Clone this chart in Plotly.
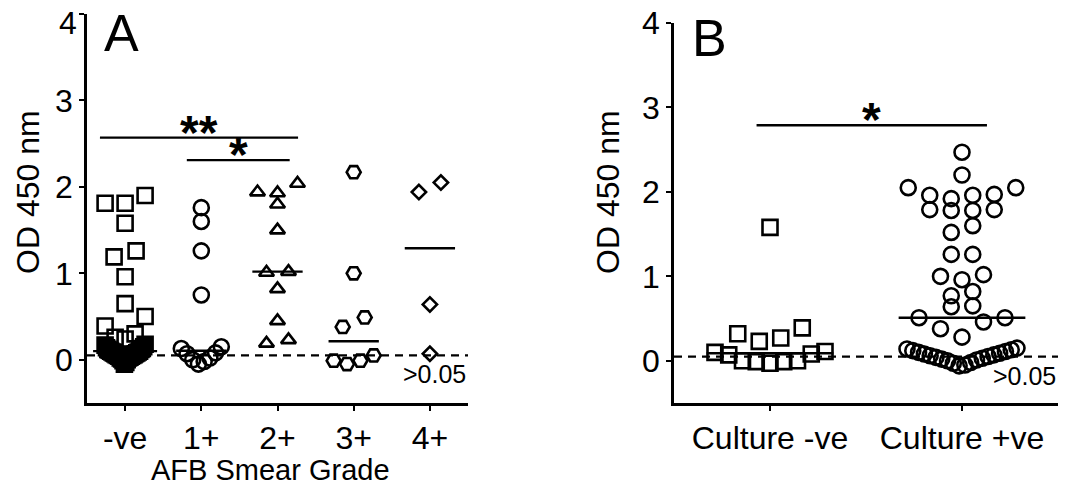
import numpy as np
import plotly.graph_objects as go

# ---------------- data ----------------
# Panel A: OD 450 nm by AFB smear grade
grade_labels = ["-ve", "1+", "2+", "3+", "4+"]
od_neg = [1.90, 1.81, 1.81, 1.58, 1.26, 1.19, 0.96, 0.65, 0.50, 0.39, 0.30, 0.26, 0.24,
          0.18, 0.17, 0.15, 0.14, 0.13, 0.12, 0.12, 0.11, 0.10, 0.10, 0.09, 0.09, 0.08,
          0.08, 0.07, 0.07, 0.06, 0.06, 0.05, 0.05, 0.04, 0.04, 0.03, 0.02, 0.02, 0.01,
          0.00, -0.01, -0.03, -0.05]
od_1p = [1.76, 1.60, 1.26, 0.75, 0.15, 0.13, 0.08, 0.07, 0.02, 0.00, -0.02, -0.05]
od_2p = [2.04, 1.94, 1.93, 1.80, 1.50, 1.02, 1.01, 0.82, 0.45, 0.23, 0.19]
od_3p = [2.17, 1.00, 0.49, 0.38, 0.05, -0.01, -0.01, -0.05]
od_4p = [2.05, 1.94, 0.64, 0.07]

# Panel B: OD 450 nm by culture result
culture_labels = ["Culture -ve", "Culture +ve"]
od_cneg = [1.58, 0.39, 0.32, 0.27, 0.23, 0.11, 0.10, 0.08, 0.07, 0.00, 0.00, -0.01, -0.01, -0.03]
od_cpos = [2.47, 2.20, 2.05, 2.05, 1.97, 1.96, 1.96, 1.92, 1.79, 1.79, 1.78, 1.78, 1.60, 1.52,
           1.26, 1.26, 1.02, 1.00, 0.96, 0.82, 0.77, 0.65, 0.64, 0.51, 0.51, 0.46, 0.38, 0.28,
           0.15, 0.14, 0.13, 0.12, 0.11, 0.10, 0.09, 0.08, 0.07, 0.06, 0.05, 0.04, 0.03,
           0.02, 0.01, 0.00, -0.02, -0.03, -0.05, -0.06]

y_ticks = [0, 1, 2, 3, 4]
cutoff = 0.05
cutoff_label = ">0.05"

# significance comparisons: (panel, x start, x end, y, label)
sig_panel = ["A", "A", "B"]
sig_x0 = [-0.33, 0.81, -0.07]
sig_x1 = [2.27, 2.16, 1.13]
sig_y = [2.57, 2.31, 2.79]
sig_text = ["**", "*", "*"]

# ---------------- layout constants ----------------
W, H = 1079, 488
FONT = "Arial, Liberation Sans, Helvetica, sans-serif"
A_XDOM = [87 / W, 468 / W]
B_XDOM = [674 / W, 1058 / W]
A_YDOM = [1 - 403 / H, 1 - 14 / H]
B_YDOM = [1 - 403 / H, 1 - 23 / H]
YR = [-0.5, 4.0]
A_XR = [-0.5, 4.5]
B_XR = [-0.5, 1.5]

A_SX = (A_XDOM[1] - A_XDOM[0]) * W / (A_XR[1] - A_XR[0])
B_SX = (B_XDOM[1] - B_XDOM[0]) * W / (B_XR[1] - B_XR[0])


def scatter_rows(vals, center, sx, s_px, w_px, h=0.26, g=0.115):
    """Prism-like scatter: group near-equal values into rows, spread center-out."""
    v = np.asarray(vals, float)
    order = np.argsort(v, kind="stable")
    xs = np.empty(len(v))
    rows, cur = [], [order[0]]
    for idx in order[1:]:
        if v[idx] - v[cur[-1]] > g or v[idx] - v[cur[0]] > h:
            rows.append(cur)
            cur = [idx]
        else:
            cur.append(idx)
    rows.append(cur)
    for r in rows:
        n = len(r)
        sp = s_px if n == 1 else min(s_px, 2 * w_px / (n - 1))
        slots = [(i - (n - 1) / 2) * sp for i in range(n)]
        so = sorted(range(n), key=lambda i: (abs(slots[i]), slots[i]))
        for k, idx in enumerate(r):
            xs[idx] = center + slots[so[k]] / sx
    return xs


fig = go.Figure()

LW = 2.6
groupsA = [od_neg, od_1p, od_2p, od_3p, od_4p]
symA = ["square-open", "circle-open", "triangle-up-open", "hexagon2-open", "diamond-open"]
sizeA = [15, 15, 13, 14, 11]
half_A = [0.42, 0.33, 0.33, 0.33, 0.33]

for i, vals in enumerate(groupsA):
    xs = scatter_rows(vals, i, A_SX, 22, 20)
    fig.add_trace(go.Scatter(x=xs, y=vals, mode="markers", xaxis="x", yaxis="y",
                             marker=dict(symbol=symA[i], size=sizeA[i], color="black",
                                         line=dict(color="black", width=LW)),
                             showlegend=False, hoverinfo="y"))

groupsB = [od_cneg, od_cpos]
symB = ["square-open", "circle-open"]
sizeB = [15, 15]
for i, vals in enumerate(groupsB):
    xs = scatter_rows(vals, i, B_SX, 21.5, 55)
    fig.add_trace(go.Scatter(x=xs, y=vals, mode="markers", xaxis="x2", yaxis="y2",
                             marker=dict(symbol=symB[i], size=sizeB[i], color="black",
                                         line=dict(color="black", width=LW)),
                             showlegend=False, hoverinfo="y"))

# median lines
for i, vals in enumerate(groupsA):
    m = float(np.median(vals))
    fig.add_trace(go.Scatter(x=[i - half_A[i], i + half_A[i]], y=[m, m], mode="lines",
                             xaxis="x", yaxis="y", line=dict(color="black", width=2.4),
                             showlegend=False, hoverinfo="skip"))
for i, vals in enumerate(groupsB):
    m = float(np.median(vals))
    fig.add_trace(go.Scatter(x=[i - 0.33, i + 0.33], y=[m, m], mode="lines",
                             xaxis="x2", yaxis="y2", line=dict(color="black", width=2.4),
                             showlegend=False, hoverinfo="skip"))

# cutoff dashed lines
for xa, ya, xr in [("x", "y", A_XR), ("x2", "y2", B_XR)]:
    fig.add_trace(go.Scatter(x=xr, y=[cutoff, cutoff], mode="lines", xaxis=xa, yaxis=ya,
                             line=dict(color="black", width=2.2, dash="8px,6px"),
                             showlegend=False, hoverinfo="skip"))

# significance bars
annotations = []
for p, x0, x1, y, t in zip(sig_panel, sig_x0, sig_x1, sig_y, sig_text):
    xa, ya = ("x", "y") if p == "A" else ("x2", "y2")
    fig.add_trace(go.Scatter(x=[x0, x1], y=[y, y], mode="lines", xaxis=xa, yaxis=ya,
                             line=dict(color="black", width=2.4),
                             showlegend=False, hoverinfo="skip"))
    annotations.append(dict(x=(x0 + x1) / 2, y=y, xref=xa, yref=ya, text="<b>" + t + "</b>",
                            showarrow=False, xanchor="center", yanchor="bottom", yshift=-23,
                            font=dict(family=FONT, size=48, color="black")))

# cutoff labels
for xa, ya, xr in [("x", "y", A_XR), ("x2", "y2", B_XR)]:
    annotations.append(dict(x=xr[1], y=cutoff, xref=xa, yref=ya, text=cutoff_label,
                            showarrow=False, xanchor="right", yanchor="top", yshift=-3,
                            font=dict(family=FONT, size=25, color="black")))

# panel letters
for t, cx, cy in [("A", 121, 33), ("B", 709, 38)]:
    annotations.append(dict(x=cx / W, y=1 - cy / H, xref="paper", yref="paper", text=t,
                            showarrow=False, xanchor="center", yanchor="middle",
                            font=dict(family=FONT, size=52, color="black")))

# top tick label of panel A sits just below its tick (as in the original)
annotations.append(dict(x=A_XR[0], y=y_ticks[-1], xref="x", yref="y", text=str(y_ticks[-1]),
                        showarrow=False, xanchor="right", yanchor="middle",
                        xshift=-8, yshift=-9,
                        font=dict(family=FONT, size=32, color="black")))

# axis titles
for cx in (28, 608):
    annotations.append(dict(x=cx / W, y=1 - 192 / H, xref="paper", yref="paper",
                            text="OD 450 nm", textangle=-90, showarrow=False,
                            xanchor="center", yanchor="middle",
                            font=dict(family=FONT, size=32, color="black")))
annotations.append(dict(x=270 / W, y=1 - 470 / H, xref="paper", yref="paper",
                        text="AFB Smear Grade", showarrow=False,
                        xanchor="center", yanchor="middle",
                        font=dict(family=FONT, size=29, color="black")))

axis_common = dict(showline=True, linecolor="black", linewidth=2.5, ticks="outside",
                   ticklen=5, tickwidth=2, tickcolor="black", showgrid=False, zeroline=False,
                   tickfont=dict(family=FONT, size=32, color="black"), mirror=False,
                   automargin=False, ticklabeloverflow="allow")

fig.update_layout(
    width=W, height=H,
    margin=dict(l=0, r=0, t=0, b=0, pad=0, autoexpand=False),
    paper_bgcolor="white", plot_bgcolor="white",
    showlegend=False,
    xaxis=dict(domain=A_XDOM, range=A_XR, anchor="y", tickmode="array",
               tickvals=list(range(len(grade_labels))), ticktext=grade_labels, **axis_common),
    yaxis=dict(domain=A_YDOM, range=YR, anchor="x", tickmode="array",
               tickvals=y_ticks, ticktext=[str(t) for t in y_ticks[:-1]] + [""],
               **axis_common),
    xaxis2=dict(domain=B_XDOM, range=B_XR, anchor="y2", tickmode="array",
                tickvals=list(range(len(culture_labels))), ticktext=culture_labels, **axis_common),
    yaxis2=dict(domain=B_YDOM, range=YR, anchor="x2", tickmode="array",
                tickvals=y_ticks, **axis_common),
    annotations=annotations,
)

fig.write_html("out.html", config={"displayModeBar": False},
               post_script="document.body.style.margin='0px';document.body.style.overflow='hidden';")
